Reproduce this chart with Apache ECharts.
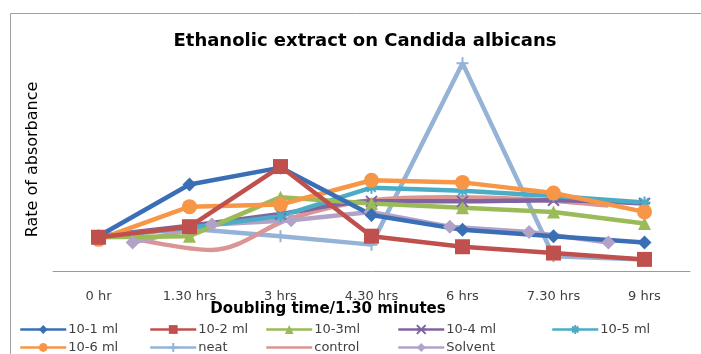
<!DOCTYPE html>
<html>
<head>
<meta charset="utf-8">
<script src="https://cdn.jsdelivr.net/npm/echarts@6/dist/echarts.min.js"></script>
<style>
  html, body { margin: 0; padding: 0; background: #fff; }
  #chart { width: 701px; height: 354px; }
</style>
</head>
<body>
<div id="chart"></div>
<script>
// Sampling times
var categories = ['0 hr', '1.30 hrs', '3 hrs', '4.30 hrs', '6 hrs', '7.30 hrs', '9 hrs'];

// Absorbance readings per dilution
var d1 = [0.33, 0.82, 0.98, 0.53, 0.39, 0.33, 0.27];       // 10-1 ml
var d2 = [0.32, 0.42, 0.99, 0.33, 0.23, 0.17, 0.11];       // 10-2 ml
var d3 = [0.32, 0.33, 0.70, 0.64, 0.60, 0.56, 0.45];       // 10-3ml
var d4 = [0.33, 0.43, 0.54, 0.66, 0.66, 0.67, 0.64];       // 10-4 ml
var d5 = [0.33, 0.41, 0.52, 0.79, 0.76, 0.71, 0.65];       // 10-5 ml
var d6 = [0.30, 0.61, 0.63, 0.86, 0.84, 0.74, 0.56];       // 10-6 ml
var neat = [0.33, 0.40, 0.33, 0.25, 1.97, 0.14, 0.11];
// control and solvent are plotted against the secondary time axis
var control = [0.31, 0.20, 0.50, 0.67, 0.70, 0.68, 0.62];
var solvent = [0.27, 0.44, 0.48, 0.56, 0.42, 0.37, 0.27];

var seriesNames = ['10-1 ml', '10-2 ml', '10-3ml', '10-4 ml', '10-5 ml', '10-6 ml', 'neat', 'control', 'Solvent'];

var chart = echarts.init(document.getElementById('chart'));

var FONT = '"DejaVu Sans", "Liberation Sans", sans-serif';
var txt = '#404040';

var plusPath = 'path://M5,0L5,10M0,5L10,5';
var crossPath = 'path://M0,0L10,10M0,10L10,0M0,5L10,5';
var starPath = 'path://M5,0L5,10M0,5L10,5M1.5,1.5L8.5,8.5M1.5,8.5L8.5,1.5';

function line(name, data, color, symbol, size, opts) {
  var s = {
    name: name,
    type: 'line',
    data: data,
    symbol: symbol,
    symbolSize: size,
    lineStyle: { color: color, width: 4.5 },
    itemStyle: { color: color },
    emphasis: { disabled: true },
    z: 2
  };
  if (opts) for (var k in opts) s[k] = opts[k];
  return s;
}

function strokeSymbol(color) {
  return { color: color, borderColor: color, borderWidth: 2 };
}

var series = [
  line('neat', neat, '#95B3D7', plusPath, 12, { itemStyle: strokeSymbol('#95B3D7'), z: 1 }),
  line('control', control, '#D99694', 'none', 0, { xAxisIndex: 1, yAxisIndex: 1, smooth: 0.35 }),
  line('Solvent', solvent, '#B3A2C7', 'diamond', 14, { xAxisIndex: 1, yAxisIndex: 1 }),
  line('10-4 ml', d4, '#8064A2', crossPath, 11, { itemStyle: strokeSymbol('#8064A2'), smooth: 0.3 }),
  line('10-5 ml', d5, '#4BACC6', starPath, 12, { itemStyle: strokeSymbol('#4BACC6') }),
  line('10-3ml', d3, '#9BBB59', 'triangle', 13),
  line('10-6 ml', d6, '#F79646', 'circle', 15),
  line('10-1 ml', d1, '#3A6FB6', 'diamond', 14),
  line('10-2 ml', d2, '#C0504D', 'rect', 15)
];

// legend entries, one component each so every entry sits in its own slot
var legendSlots = [
  [14, 318], [144, 318], [260, 318], [392, 318], [546, 318],
  [14, 336], [144, 336], [260, 336], [392, 336]
];
var legends = seriesNames.map(function (n, i) {
  var item = { name: n };
  if (n === 'control') item.itemStyle = { opacity: 0 };
  return {
    data: [item],
    left: legendSlots[i][0],
    top: legendSlots[i][1],
    itemWidth: 46,
    itemHeight: 11,
    itemGap: 4,
    selectedMode: false,
    lineStyle: { width: 2.5 },
    textStyle: { fontFamily: FONT, fontSize: 13, color: txt, padding: [0, 0, 0, -3] }
  };
});

var option = {
  backgroundColor: '#fff',
  animation: false,
  title: {
    text: 'Ethanolic extract on Candida albicans',
    left: 360,
    textAlign: 'center',
    top: 27,
    textStyle: { fontFamily: FONT, fontSize: 18, fontWeight: 'bold', color: '#000' }
  },
  legend: legends,
  grid: [
    { left: 53, right: 11, top: 60, bottom: 83 },
    { left: 93, right: 53, top: 60, bottom: 83 }
  ],
  xAxis: [
    {
      type: 'category',
      gridIndex: 0,
      data: categories,
      boundaryGap: true,
      axisLine: { lineStyle: { color: '#9A9A9A', width: 1 } },
      axisTick: { show: false },
      axisLabel: { fontFamily: FONT, fontSize: 13, color: txt, margin: 19 }
    },
    {
      type: 'category',
      gridIndex: 1,
      data: categories,
      boundaryGap: true,
      show: false
    }
  ],
  yAxis: [
    {
      type: 'value',
      gridIndex: 0,
      min: 0,
      max: 2,
      axisLine: { show: false },
      axisTick: { show: false },
      axisLabel: { show: false },
      splitLine: { show: false },
      name: 'Rate of absorbance',
      nameLocation: 'middle',
      nameGap: 12,
      nameTextStyle: { fontFamily: FONT, fontSize: 16, color: '#000', padding: [0, 0, 0, 12] }
    },
    {
      type: 'value',
      gridIndex: 1,
      min: 0,
      max: 2,
      show: false
    }
  ],
  graphic: [
    {
      type: 'rect',
      shape: { x: 10.5, y: 13.5, width: 700, height: 350 },
      style: { fill: 'none', stroke: '#A0A0A0', lineWidth: 1 },
      silent: true
    },
    {
      type: 'text',
      x: 328,
      y: 309,
      style: {
        text: 'Doubling time/1.30 minutes',
        fontFamily: FONT,
        fontSize: 15,
        fontWeight: 'bold',
        fill: '#000',
        align: 'center',
        verticalAlign: 'middle'
      },
      z: 10
    }
  ],
  series: series
};

chart.setOption(option);
</script>
</body>
</html>
